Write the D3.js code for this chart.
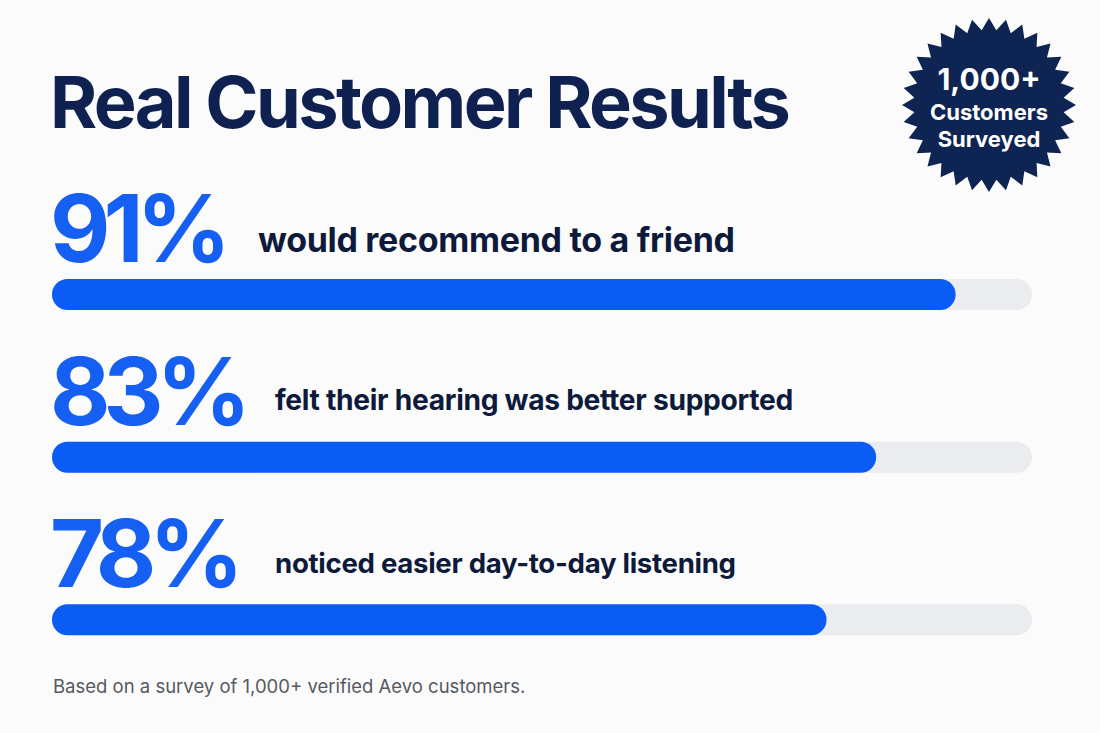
<!DOCTYPE html>
<html>
<head>
<meta charset="utf-8">
<script src="https://cdn.jsdelivr.net/npm/d3@7"></script>
<style>
  html, body { margin: 0; padding: 0; background: #fbfbfc; }
  svg { display: block; }
</style>
</head>
<body>
<div id="container"></div>
<script>
// Chart size
var svg_width = 1100
var svg_height = 733

// Data
var percents = [91, 83, 78]
var labels = ["would recommend to a friend", "felt their hearing was better supported", "noticed easier day-to-day listening"]
var badgeLines = ["1,000+", "Customers", "Surveyed"]
var titleText = "Real Customer Results"
var footText = "Based on a survey of 1,000+ verified Aevo customers."

var navy = "#0e2150"
var blue = "#0a5cf5"

var svg = d3.select("#container")
    .append("svg")
    .attr("width", svg_width)
    .attr("height", svg_height)

svg.append("rect")
    .attr("width", svg_width)
    .attr("height", svg_height)
    .attr("fill", "#fbfbfc")

// Title
svg.append("text")
    .attr("x", 50)
    .attr("y", 128)
    .attr("font-family", "Inter, 'Liberation Sans', sans-serif")
    .attr("font-weight", 700)
    .attr("font-size", 72)
    .attr("letter-spacing", -2.6)
    .attr("fill", navy)
    .text(titleText)

// Badge (starburst)
var nPoints = 32
var starPts = d3.range(nPoints * 2).map(function(i){
    return [i * Math.PI / nPoints, i % 2 == 0 ? 87 : 75];
});
var star = d3.lineRadial().curve(d3.curveLinearClosed)
var badge = svg.append("g").attr("transform", "translate(989,105)")
badge.append("path")
    .attr("d", star(starPts))
    .attr("fill", "#0e2452")

var badgeSizes = [30, 22, 22]
var badgeY = [-15, 15, 42]
badge.selectAll("text.badge")
    .data(badgeLines)
    .enter()
    .append("text")
    .attr("class", "badge")
    .attr("x", 0)
    .attr("y", (d, i) => badgeY[i])
    .attr("text-anchor", "middle")
    .attr("font-family", "Inter, 'Liberation Sans', sans-serif")
    .attr("font-weight", 700)
    .attr("font-size", (d, i) => badgeSizes[i])
    .attr("fill", "#ffffff")
    .text(d => d)

// Scales
var x = d3.scaleLinear().domain([0, 100]).range([52, 1045])
var y = d3.scaleBand().domain(d3.range(percents.length)).range([188, 676]).paddingInner(0)
var trackEnd = 1032
var barH = 31

// each label has its own size in the picture
var labelX = [258, 275, 275]
var labelSize = [34, 28.2, 27.6]
var labelY = [64, 59, 60]

var rows = svg.selectAll("g.row")
    .data(percents)
    .enter()
    .append("g")
    .attr("class", "row")
    .attr("transform", (d, i) => "translate(0," + y(i) + ")")

// big number
rows.append("text")
    .attr("class", "num")
    .attr("x", 50)
    .attr("y", 74)
    .attr("font-family", "Inter, 'Liberation Sans', sans-serif")
    .attr("font-weight", 700)
    .attr("font-size", 93)
    .attr("letter-spacing", -7)
    .attr("fill", "#1560f2")
    .text(d => d + "%")

// label
rows.append("text")
    .attr("x", (d, i) => labelX[i])
    .attr("y", (d, i) => labelY[i])
    .attr("font-family", "Inter, 'Liberation Sans', sans-serif")
    .attr("font-weight", 700)
    .attr("font-size", (d, i) => labelSize[i])
    .attr("letter-spacing", -0.3)
    .attr("fill", "#0d1a3a")
    .text((d, i) => labels[i])

// track
rows.append("rect")
    .attr("x", x(0))
    .attr("y", 91)
    .attr("width", trackEnd - x(0))
    .attr("height", barH)
    .attr("rx", barH / 2)
    .attr("fill", "#ebecf0")

// bar
rows.append("rect")
    .attr("x", x(0))
    .attr("y", 91)
    .attr("width", d => x(d) - x(0))
    .attr("height", barH)
    .attr("rx", barH / 2)
    .attr("fill", blue)

// Footnote
svg.append("text")
    .attr("x", 53)
    .attr("y", 693)
    .attr("font-family", "Inter, 'Liberation Sans', sans-serif")
    .attr("font-size", 18.5)
    .attr("fill", "#55595f")
    .text(footText)
</script>
</body>
</html>
